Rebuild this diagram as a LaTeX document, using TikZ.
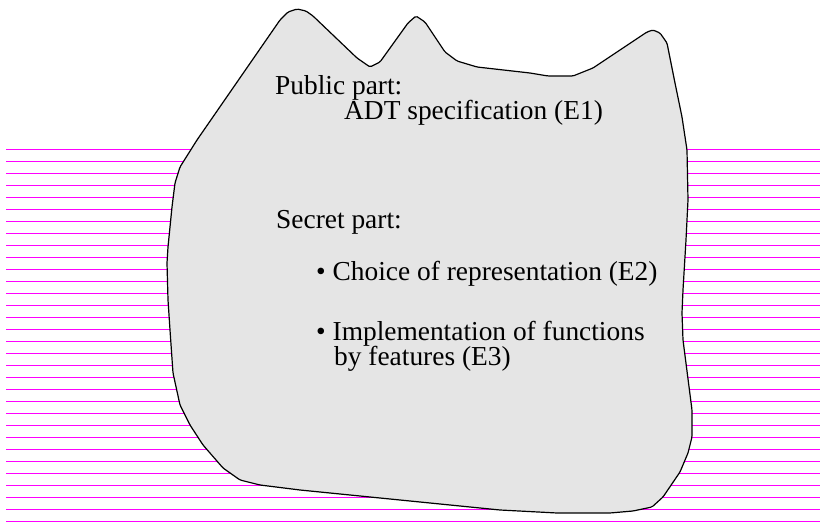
\documentclass[tikz,border=0pt]{standalone}
\usepackage{fontspec}
\setmainfont{Liberation Serif}
\definecolor{hatchpink}{rgb}{1,0,1}
\definecolor{blobgray}{rgb}{0.898,0.898,0.898}
\begin{document}
\begin{tikzpicture}[x=1pt,y=-1pt,
  hatchline/.style={color=hatchpink, line width=1.3pt},
  blob/.style={draw=black, fill=blobgray, line width=1.2pt, line join=round, rounded corners=1.5pt},
  label/.style={anchor=base west, inner sep=0pt, font=\fontsize{27.4}{30}\selectfont}]
\useasboundingbox (0,0) rectangle (820,529);
\begin{scope}[hatchline]
\foreach \i in {0,...,31}{
  \draw[hatchpink] (6,149.3+12.01*\i) -- (820,149.3+12.01*\i);
}
\end{scope}
\draw[blob] (197,140) -- (280,20) -- (288,12) -- (297,9) -- (306,11) -- (313,16) -- (357,58) -- (370,67) -- (380,62) -- (408,23) -- (416,16) -- (425,22) -- (445,52) -- (457,61) -- (477,67) -- (530,73) -- (548,76) -- (573,76) -- (593,68) -- (647,32) -- (653,30) -- (660,33) -- (667,43) -- (675,83) -- (682,117) -- (687,150) -- (688,200) -- (686,240) -- (683,290) -- (682,313) -- (683,340) -- (692,410) -- (692,437) -- (688,453) -- (680,472) -- (663,497) -- (652,507) -- (633,511) -- (610,513) -- (557,513) -- (500,510) -- (300,490) -- (260,485) -- (240,480) -- (223,468) -- (203,445) -- (190,425) -- (180,405) -- (173,373) -- (170,330) -- (168,300) -- (167,263) -- (168,247) -- (172,207) -- (175,183) -- (180,167) -- cycle;
\node[label] (pub) at (275,95) {Public part:};
\node[label] (adt) at (344,120) {ADT specification (E1)};
\node[label] (sec) at (276,229) {Secret part:};
\node[label] (cho) at (316,281) {• Choice of representation (E2)};
\node[label] (imp) at (316,341) {• Implementation of functions};
\node[label] (feat) at (334,366) {by features (E3)};
\end{tikzpicture}
\end{document}
